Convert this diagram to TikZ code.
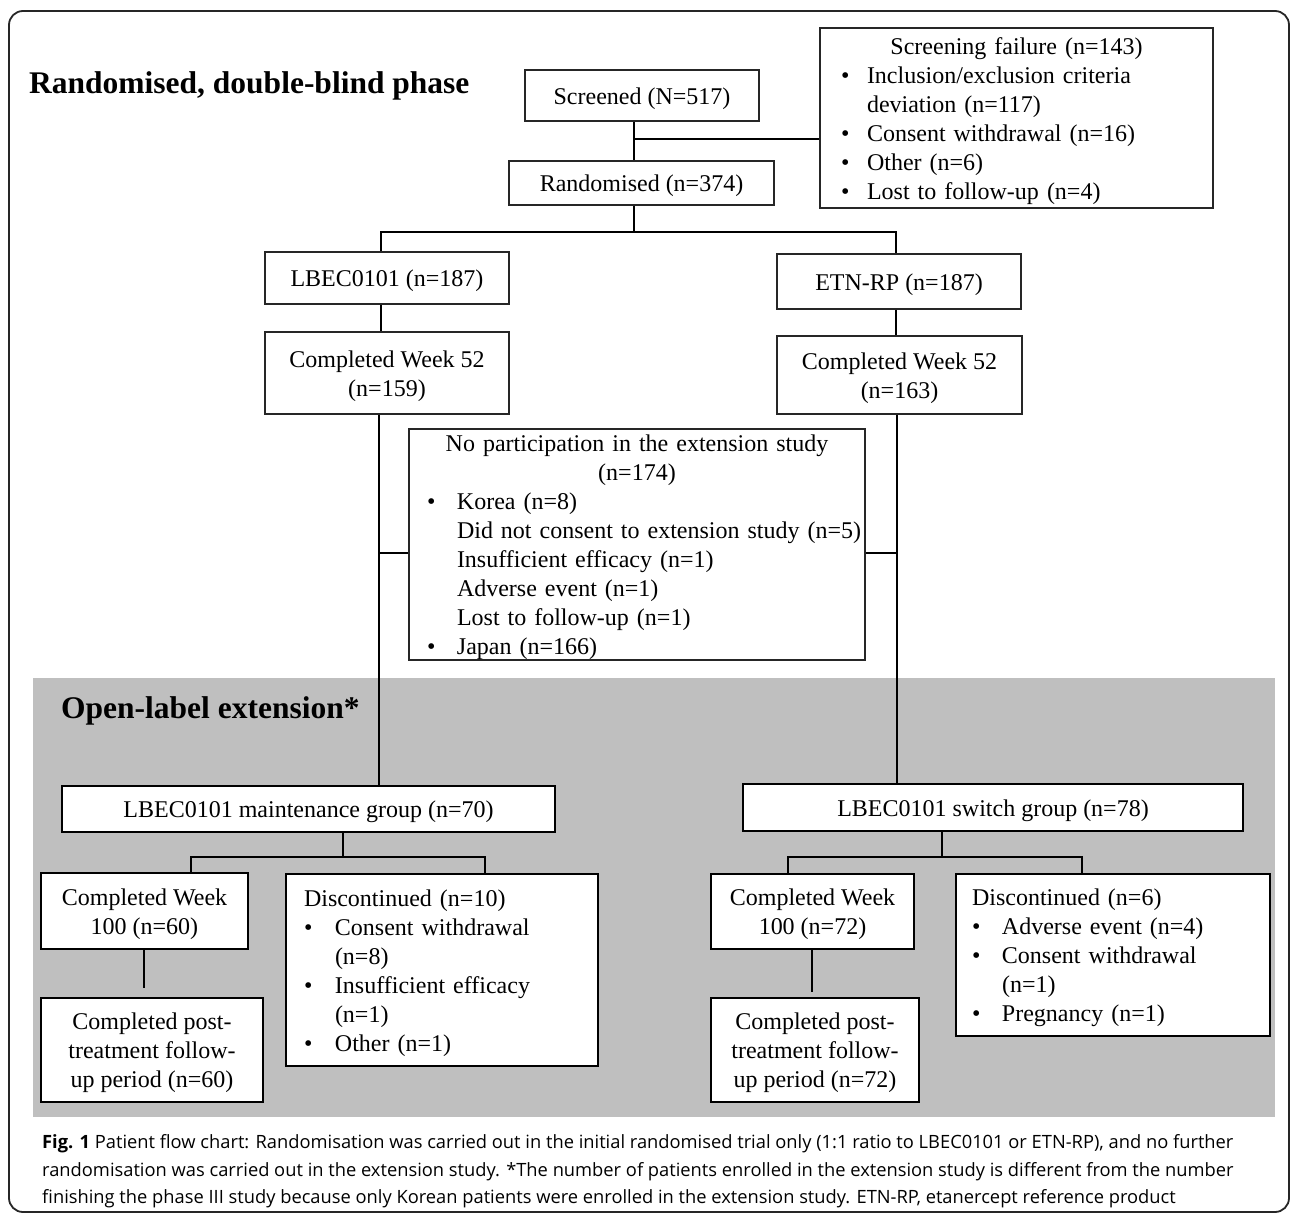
\documentclass[tikz,border=0pt]{standalone}
\usepackage{fontspec}
\setmainfont{Liberation Serif}
\newfontfamily\capfont{Open Sans}
\newcommand\bx[8]{%
  \node[#6, minimum width={(#4)-(#2)}, minimum height={(#5)-(#3)}] (#1) at ({((#2)+(#4))/2},{((#3)+(#5))/2}) {};
  \node[boxtext, #7] (#1-t) at ([yshift=-3pt]#1.center) {#8};}
\newcommand\itm[2][26pt]{\mbox{\makebox[#1][l]{\textbullet}#2}}
\newcommand\cnt[2][26pt]{\mbox{\hspace*{#1}#2}}
\newcommand\ctr[1]{\hfill\mbox{#1}\hfill\null}
\begin{document}
\begin{tikzpicture}[x=1pt,y=-1pt,
  box/.style={draw=black!85, line width=1.4pt, fill=white, inner sep=0pt},
  gbox/.style={box, draw=black, line width=2.2pt},
  boxtext/.style={inner sep=0pt, font=\fontsize{24}{29}\selectfont, align=center},
  lbox/.style={align=left},
  conn/.style={line width=1.8pt, draw=black},
  head/.style={font=\fontsize{31.5}{36}\selectfont\bfseries, anchor=base west, inner sep=0pt},
  captext/.style={font=\capfont\fontsize{18.3}{28}\selectfont, anchor=base west, inner sep=0pt}]
\useasboundingbox (0,0) rectangle (1290,1215);
% frame
\draw[line width=1.8pt, draw=black!85, rounded corners=14pt] (9,11) rectangle (1289,1212);
% grey panel
\fill[fill=black!25] (33,678) rectangle (1275,1117);
% headings
\node[head] (h1) at (29,93) {Randomised, double-blind phase};
\node[head] (h2) at (61,718) {Open-label extension*};
% top boxes
\bx{scr}{525}{70}{759}{121}{box}{}{Screened (N=517)}
\bx{fail}{820}{28}{1213}{208}{box}{lbox,text width=351pt,inner xsep=21pt}{%
\ctr{Screening failure (n=143)}\\
\itm{Inclusion/exclusion criteria}\\
\cnt{deviation (n=117)}\\
\itm{Consent withdrawal (n=16)}\\
\itm{Other (n=6)}\\
\itm{Lost to follow-up (n=4)}}
\bx{rand}{509}{161}{774}{205}{box}{}{Randomised (n=374)}
\bx{lbec}{265}{252}{509}{304}{box}{}{LBEC0101 (n=187)}
\bx{etn}{777}{254}{1021}{309}{box}{}{ETN-RP (n=187)}
\bx{cwa}{265}{332}{509}{414}{box}{}{Completed Week 52\\(n=159)}
\bx{cwb}{777}{336}{1022}{414}{box}{}{Completed Week 52\\(n=163)}
\bx{nop}{409}{429}{865}{660}{box}{lbox,text width=420pt,inner xsep=18pt}{%
\ctr{No participation in the extension study}\\
\ctr{(n=174)}\\
\itm[30pt]{Korea (n=8)}\\
\cnt[30pt]{Did not consent to extension study (n=5)}\\
\cnt[30pt]{Insufficient efficacy (n=1)}\\
\cnt[30pt]{Adverse event (n=1)}\\
\cnt[30pt]{Lost to follow-up (n=1)}\\
\itm[30pt]{Japan (n=166)}}
% extension boxes
\bx{maint}{62}{786}{555}{832}{gbox}{}{LBEC0101 maintenance group (n=70)}
\bx{swi}{743}{784}{1243}{831}{gbox}{}{LBEC0101 switch group (n=78)}
\bx{cwca}{41}{873}{248}{949}{gbox}{}{Completed Week\\100 (n=60)}
\bx{disa}{286}{874}{598}{1066}{gbox}{lbox,text width=276pt,inner xsep=18pt}{%
Discontinued (n=10)\\
\itm[31pt]{Consent withdrawal}\\
\cnt[31pt]{(n=8)}\\
\itm[31pt]{Insufficient efficacy}\\
\cnt[31pt]{(n=1)}\\
\itm[31pt]{Other (n=1)}}
\bx{posa}{41}{998}{263}{1102}{gbox}{}{Completed post-\\treatment follow-\\up period (n=60)}
\bx{cwcb}{711}{874}{914}{949}{gbox}{}{Completed Week\\100 (n=72)}
\bx{disb}{956}{874}{1270}{1036}{gbox}{lbox,text width=282pt,inner xsep=16pt}{%
Discontinued (n=6)\\
\itm[30pt]{Adverse event (n=4)}\\
\itm[30pt]{Consent withdrawal}\\
\cnt[30pt]{(n=1)}\\
\itm[30pt]{Pregnancy (n=1)}}
\bx{posb}{711}{998}{919}{1102}{gbox}{}{Completed post-\\treatment follow-\\up period (n=72)}
% junction coordinates
\coordinate (j1) at (634,139);
\coordinate (j2) at (634,232);
\coordinate (bl) at (381,232);
\coordinate (br) at (896,232);
\coordinate (ll) at (379,553);
\coordinate (rl) at (897,553);
\coordinate (m0) at (343,857);
\coordinate (ma) at (191,857);
\coordinate (mb) at (485,857);
\coordinate (pa) at (144,988);
\coordinate (s0) at (942,857);
\coordinate (sa) at (788,857);
\coordinate (sb) at (1082,857);
\coordinate (pb) at (812,992);
% connectors
\draw[conn] (j1 |- scr.south) -- (j1 |- rand.north);
\draw[conn] (j1) -- (j1 -| fail.west);
\draw[conn] (j2 |- rand.south) -- (j2);
\draw[conn] (bl |- lbec.north) -- (bl) -- (br) -- (br |- etn.north);
\draw[conn] (bl |- lbec.south) -- (bl |- cwa.north);
\draw[conn] (br |- etn.south) -- (br |- cwb.north);
\draw[conn] (ll |- cwa.south) -- (ll |- maint.north);
\draw[conn] (ll) -- (ll -| nop.west);
\draw[conn] (rl |- cwb.south) -- (rl |- swi.north);
\draw[conn] (rl) -- (rl -| nop.east);
\draw[conn] (m0 |- maint.south) -- (m0);
\draw[conn] (ma |- cwca.north) -- (ma) -- (mb) -- (mb |- disa.north);
\draw[conn] (pa |- cwca.south) -- (pa);
\draw[conn] (s0 |- swi.south) -- (s0);
\draw[conn] (sa |- cwcb.north) -- (sa) -- (sb) -- (sb |- disb.north);
\draw[conn] (pb |- cwcb.south) -- (pb);
% caption
\node[captext] (c1) at (42,1148) {\textbf{Fig. 1} Patient flow chart: Randomisation was carried out in the initial randomised trial only (1:1 ratio to LBEC0101 or ETN-RP), and no further};
\node[captext] (c2) at (42,1176) {randomisation was carried out in the extension study. *The number of patients enrolled in the extension study is different from the number};
\node[captext] (c3) at (42,1203) {finishing the phase III study because only Korean patients were enrolled in the extension study. ETN-RP, etanercept reference product};
\end{tikzpicture}
\end{document}
